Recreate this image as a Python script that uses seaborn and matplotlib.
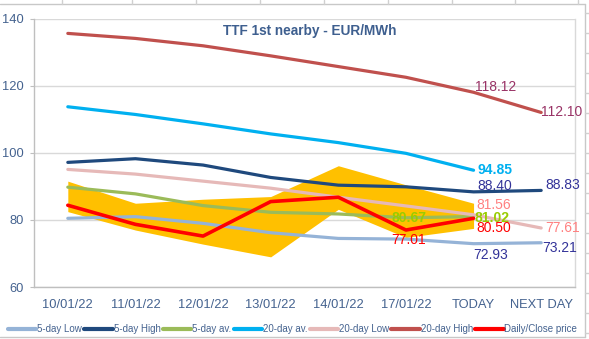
import numpy as np
import pandas as pd
import matplotlib
matplotlib.use("Agg")
import matplotlib.pyplot as plt
from matplotlib.lines import Line2D
import seaborn as sns

nan = np.nan
categories = ["10/01/22", "11/01/22", "12/01/22", "13/01/22", "14/01/22", "17/01/22", "TODAY", "NEXT DAY"]
low5 = [80.5, 81.0, 79.0, 76.2, 74.5, 74.3, 72.93, 73.21]
high5 = [97.2, 98.3, 96.4, 92.7, 90.4, 89.9, 88.40, 88.83]
av5 = [89.8, 87.8, 84.3, 82.3, 81.8, 80.67, 81.02, nan]
av20 = [113.8, 111.5, 108.7, 105.7, 103.1, 99.9, 94.85, nan]
low20 = [95.1, 93.7, 91.6, 89.5, 86.8, 84.2, 81.56, 77.61]
high20 = [135.7, 134.2, 132.0, 129.0, 125.8, 122.6, 118.12, 112.10]
close = [84.4, 78.7, 75.2, 85.5, 86.8, 77.01, 80.50, nan]
band_high = [91.6, 85.0, 86.2, 87.0, 96.2, 90.5, 85.0]
band_low = [82.5, 77.0, 72.8, 69.0, 83.2, 74.8, 77.5]

series_names = ["5-day Low", "5-day High", "5-day av.", "20-day av.", "20-day Low", "20-day High", "Daily/Close price"]
series_vals = [low5, high5, av5, av20, low20, high20, close]
series_colors = ["#95B3D7", "#1F497D", "#9BBB59", "#00B0F0", "#E6B9B8", "#C0504D", "#FF0000"]

rows = []
for name, vals in zip(series_names, series_vals):
    for i, v in enumerate(vals):
        if not np.isnan(v):
            rows.append({"series": name, "pos": i, "value": v})
df = pd.DataFrame(rows)

sns.set_style("white")
plt.rcParams["font.family"] = ["Liberation Sans", "DejaVu Sans"]

W, H = 589, 339
fig = plt.figure(figsize=(W / 100, H / 100), dpi=100)
fig.patch.set_facecolor("white")
ax = fig.add_axes([34 / W, 1 - 287 / H, (575 - 34) / W, (287 - 19) / H])

# Orange daily range band
ax.fill_between(range(len(band_high)), band_low, band_high, color="#FFC000", linewidth=0, zorder=1)

sns.lineplot(data=df, x="pos", y="value", hue="series", hue_order=series_names,
             palette=dict(zip(series_names, series_colors)), linewidth=2.3,
             estimator=None, sort=False, legend=False, ax=ax, zorder=3)
ax.lines[-1].set_linewidth(2.6)

ax.set_xlim(-0.5, 7.5)
ax.set_ylim(60, 140)
ax.set_yticks([60, 80, 100, 120, 140])
ax.set_xticks(range(len(categories)))
ax.set_xticklabels(categories)
ax.set_xticks(np.arange(-0.5, 8, 1), minor=True)
ax.set_xlabel("")
ax.set_ylabel("")
ax.grid(axis="y", color="#D9D9D9", linewidth=1, zorder=0)
ax.set_axisbelow(True)
tick_col = "#44628F"
ax.tick_params(axis="x", which="major", length=0, pad=9, labelsize=9.3, labelcolor=tick_col)
ax.tick_params(axis="x", which="minor", length=4, color="#BFBFBF", direction="out")
ax.tick_params(axis="y", length=3, color="#BFBFBF", pad=4.5, labelsize=9.3, labelcolor=tick_col, left=True)
for s in ["left", "bottom"]:
    ax.spines[s].set_color("#BFBFBF")
    ax.spines[s].set_linewidth(1)
ax.spines["top"].set_visible(False)
ax.spines["right"].set_color("#D9D9D9")
ax.spines["right"].set_linewidth(1)

ax.text(0.51, 0.955, "TTF 1st nearby - EUR/MWh", transform=ax.transAxes, ha="center", va="center",
        fontsize=9.8, fontweight="bold", color="#3E5F8F")

# data labels
def lab(i, v, text, color, dx, dy, ha="left", bold=False):
    ax.annotate(text, (i, v), xytext=(dx, dy), textcoords="offset points", ha=ha, va="center",
                fontsize=10, color=color, fontweight="bold" if bold else "normal", zorder=5,
                annotation_clip=False)

lab(6, high20[6], f"{high20[6]:.2f}", "#993366", 1, 4)
lab(7, high20[7], f"{high20[7]:.2f}", "#993366", 0, 0)
lab(6, av20[6], f"{av20[6]:.2f}", "#00B0F0", 3, 0, bold=True)
lab(6, high5[6], f"{high5[6]:.2f}", "#333399", 3, 4)
lab(7, high5[7], f"{high5[7]:.2f}", "#333399", 3, 4)
lab(6, low20[6], f"{low20[6]:.2f}", "#FF8080", 2, 7)
lab(6, av5[6], f"{av5[6]:.2f}", "#99CC00", 1, -1, bold=True)
lab(6, close[6], f"{close[6]:.2f}", "#FF0000", 2, -7)
lab(7, low20[7], f"{low20[7]:.2f}", "#FF8080", 3, 0)
lab(5, av5[5], f"{av5[5]:.2f}", "#99CC00", 2, 0, ha="center", bold=True)
lab(5, close[5], f"{close[5]:.2f}", "#FF0000", 2, -7, ha="center")
lab(6, low5[6], f"{low5[6]:.2f}", "#333399", 12, -8, ha="center")
lab(7, low5[7], f"{low5[7]:.2f}", "#333399", 1, -4)

handles = [Line2D([0], [0], color=c, linewidth=3) for c in series_colors]
fig.legend(handles, series_names, loc="center", bbox_to_anchor=(0.497, 1 - 329 / H), ncol=7,
           frameon=False, fontsize=7, handlelength=2.9, handletextpad=0.1, columnspacing=0.25,
           labelcolor="#44628F", borderpad=0, borderaxespad=0)

# chart area border and spreadsheet cell lines
fig.add_artist(Line2D([0, 585 / W], [1 - 4 / H, 1 - 4 / H], transform=fig.transFigure, color="#C8C8C8", linewidth=1))
fig.add_artist(Line2D([585 / W, 585 / W], [1 - 4 / H, 1 - 337 / H], transform=fig.transFigure, color="#C8C8C8", linewidth=1))
fig.add_artist(Line2D([0, 585 / W], [1 - 337 / H, 1 - 337 / H], transform=fig.transFigure, color="#C8C8C8", linewidth=1))
for xc in [62, 132, 196, 260, 324, 388, 452, 515, 578]:
    fig.add_artist(Line2D([xc / W, xc / W], [1, 1 - 4 / H], transform=fig.transFigure, color="#D0D0D0", linewidth=1))
for yc in range(13, 339, 20):
    fig.add_artist(Line2D([585 / W, 1], [1 - yc / H, 1 - yc / H], transform=fig.transFigure, color="#D0D0D0", linewidth=1))

fig.savefig("out.png", dpi=100, facecolor="white")
